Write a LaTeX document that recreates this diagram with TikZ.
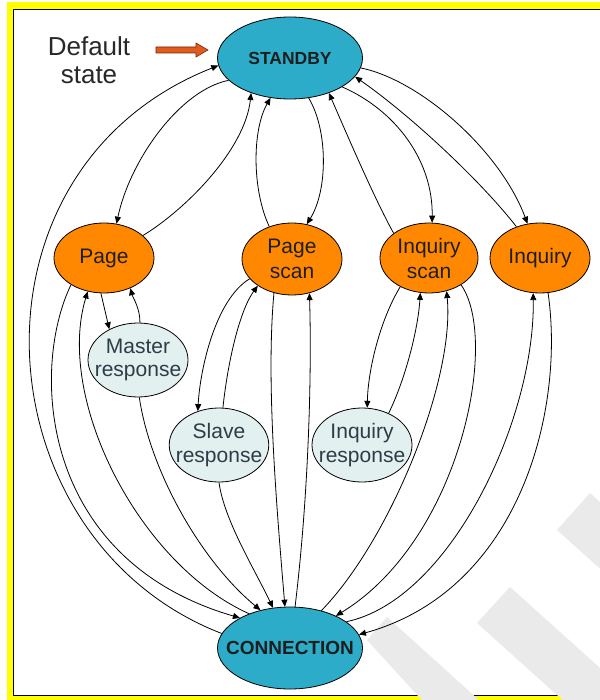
\documentclass[tikz,border=0pt]{standalone}
\usepackage{fontspec}
\setmainfont{Liberation Sans}
\usetikzlibrary{shapes.geometric,arrows.meta}
\definecolor{stbycol}{RGB}{44,172,200}
\definecolor{orangecol}{RGB}{255,136,0}
\definecolor{respcol}{RGB}{226,240,240}
\definecolor{resptext}{RGB}{45,60,70}
\definecolor{darktext}{RGB}{30,30,30}
\definecolor{labeltext}{RGB}{40,40,40}
\definecolor{arrowfill}{RGB}{226,90,30}
\definecolor{arrowedge}{RGB}{110,40,10}
\definecolor{framecol}{RGB}{255,255,0}
\definecolor{wmark}{RGB}{234,234,234}
\begin{document}
\begin{tikzpicture}[x=1pt,y=-1pt,
  base/.style={ellipse, draw=black, line width=0.8pt, inner sep=0pt, align=center},
  bignode/.style={base, fill=stbycol, minimum width=145pt, minimum height=82pt, font=\bfseries\fontsize{17.5}{20}\selectfont, text=darktext},
  orangenode/.style={base, fill=orangecol, minimum width=100pt, minimum height=70pt, font=\fontsize{21}{25}\selectfont, text=darktext},
  respnode/.style={base, inner xsep=-8pt, fill=respcol, minimum width=100pt, minimum height=74pt, font=\fontsize{21}{23.5}\selectfont, text=resptext},
  edge/.style={line width=0.8pt, -{Triangle[length=7pt,width=6pt]}}]
\useasboundingbox (0,0) rectangle (599,700);
% frame
\fill[white] (0,0) rectangle (599,700);
\fill[framecol] (7,2) rectangle (620,710);
\fill[white] (13.5,9.5) rectangle (620,695.5);
\draw[black, line width=1.2pt] (13.5,9.5) rectangle (620,695.5);
% watermark
\fill[wmark] (590,493) -- (557,530) -- (617,584) -- (650,547) -- cycle;
\fill[wmark] (510,587) -- (477,623) -- (607,740) -- (640,704) -- cycle;
\fill[wmark] (387,617) -- (367,640) -- (440,720) -- (490,710) -- cycle;
% nodes
\node[bignode] (standby) at (290,58) {STANDBY};
\node[bignode, inner xsep=-13pt, font=\bfseries\fontsize{19}{21}\selectfont] (connection) at (290,648) {CONNECTION};
\node[orangenode] (page) at (104,258) {Page};
\node[orangenode, minimum height=72pt] (pagescan) at (292,259) {Page\\scan};
\node[orangenode, minimum width=98pt] (inqscan) at (429,258) {Inquiry\\scan};
\node[orangenode] (inquiry) at (540,258) {Inquiry};
\node[respnode] (master) at (138,360) {Master\\response};
\node[respnode, minimum width=98pt] (slave) at (219,445) {Slave\\response};
\node[respnode] (inqresp) at (362,445) {Inquiry\\response};
% default state
\node[font=\fontsize{26}{28}\selectfont, text=labeltext, align=center] (deflabel) at (89,60) {Default\\state};
\coordinate (arrtail) at (156,50);
\fill[arrowfill, draw=arrowedge, line width=0.6pt] (arrtail) ++(0,-3) -- ++(40,0) -- ++(0,-4) -- ++(12,7) -- ++(-12,7) -- ++(0,-4) -- ++(-40,0) -- cycle;
% edges: STANDBY <-> middle row
\draw[edge] (connection.168) .. controls (-20,540) and (-46,170) .. (standby.186);
\draw[edge] (standby.200) .. controls (180,90) and (130,160) .. (page.70);
\draw[edge] (page.30) .. controls (185,210) and (245,150) .. (standby.222);
\draw[edge] (pagescan.125) .. controls (252,190) and (252,130) .. (standby.244);
\draw[edge] (standby.295) .. controls (328,130) and (328,190) .. (pagescan.67);
\draw[edge] (inqscan.145) .. controls (375,200) and (345,130) .. (standby.318);
\draw[edge] (standby.331) .. controls (395,110) and (433,160) .. (inqscan.85);
\draw[edge] (inquiry.127) .. controls (480,180) and (410,115) .. (standby.344);
\draw[edge] (standby.352) .. controls (420,80) and (500,150) .. (inquiry.110);
% Page / Master
\draw[edge] (page.265) -- (master.133);
\draw[edge] (master.87) .. controls (140,308) and (133,298) .. (page.311);
\draw[edge] (page.219) .. controls (30,370) and (40,560) .. (connection.149);
\draw[edge] (connection.140) .. controls (140,565) and (55,400) .. (page.244);
\draw[edge] (master.272) .. controls (150,470) and (200,560) .. (connection.128);
% Page scan / Slave
\draw[edge] (pagescan.205) .. controls (215,300) and (200,370) .. (slave.122);
\draw[edge] (slave.84) .. controls (228,360) and (240,310) .. (pagescan.218);
\draw[edge] (slave.270) .. controls (224,520) and (255,570) .. (connection.113);
\draw[edge] (pagescan.242) .. controls (266,380) and (276,500) .. (connection.97);
\draw[edge] (connection.83) .. controls (308,500) and (312,380) .. (pagescan.297);
% Inquiry scan / Inquiry response / Inquiry
\draw[edge] (connection.50) .. controls (390,540) and (455,380) .. (inqscan.298);
\draw[edge] (inqscan.320) .. controls (500,340) and (460,540) .. (connection.35);
\draw[edge] (connection.25) .. controls (450,600) and (535,420) .. (inquiry.259);
\draw[edge] (inquiry.283) .. controls (565,410) and (520,590) .. (connection.11);
\draw[edge] (inqscan.225) .. controls (380,320) and (368,370) .. (inqresp.82);
\draw[edge] (inqresp.50) .. controls (405,380) and (418,330) .. (inqscan.256);
\end{tikzpicture}
\end{document}
